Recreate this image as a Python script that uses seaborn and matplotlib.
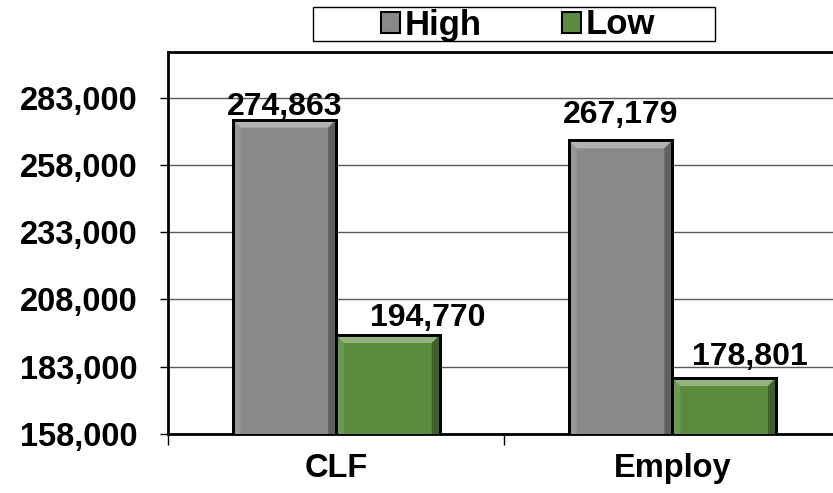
import matplotlib
matplotlib.use("Agg")
import matplotlib.pyplot as plt
from matplotlib.patches import Patch, Polygon, Rectangle
import numpy as np
import pandas as pd
import seaborn as sns

# data
categories = ["CLF", "Employ"]
high_vals = [274863, 267179]
low_vals = [194770, 178801]
series = ["High", "Low"]
yticks = [158000, 183000, 208000, 233000, 258000, 283000]

colors = {"High": "#898989", "Low": "#5b8b3c"}

df = pd.DataFrame({
    "cat": categories * 2,
    "series": ["High"] * len(categories) + ["Low"] * len(categories),
    "value": high_vals + low_vals,
})

sns.set_style("white")
plt.rcParams["font.family"] = ["Liberation Sans", "DejaVu Sans"]
plt.rcParams["font.weight"] = "bold"
plt.rcParams["text.color"] = "black"
plt.rcParams["xtick.color"] = "black"
plt.rcParams["ytick.color"] = "black"

W, H = 833, 493
fig = plt.figure(figsize=(W / 100, H / 100), dpi=100)
ax = fig.add_axes([168 / W, (H - 434) / H, (840.5 - 168) / W, (434 - 52) / H])

sns.barplot(data=df, x="cat", y="value", hue="series", hue_order=series,
            palette=colors, width=0.616, gap=0, edgecolor="black",
            linewidth=2, saturation=1, legend=False, ax=ax, zorder=3)

ax.set_xlim(-0.5, 1.5)
ax.set_ylim(158000, 300000)
ax.set_yticks(yticks)
ax.set_yticklabels([f"{v:,}" for v in yticks])
ax.set_xlabel("")
ax.set_ylabel("")
ax.yaxis.grid(True, color="#5a5a5a", lw=1, zorder=0)
ax.xaxis.grid(False)

ax.tick_params(axis="y", left=True, direction="out", length=6, width=1,
               color="black", labelcolor="black", pad=16, labelsize=23.5)
ax.tick_params(axis="x", which="major", bottom=True, length=0, pad=14,
               labelcolor="black", labelsize=23.5)
ax.set_xticks([-0.5, 0.5, 1.5], minor=True)
ax.tick_params(axis="x", which="minor", bottom=True, direction="out",
               length=8, width=1, color="black")
for lab in ax.get_xticklabels() + ax.get_yticklabels():
    lab.set_fontweight("bold")

for side in ["left", "bottom", "top", "right"]:
    ax.spines[side].set_color("black")
    ax.spines[side].set_linewidth(2)
    ax.spines[side].set_visible(True)

fig.canvas.draw()

# bevel look on each bar, sized in pixels and converted to data units
bev = 8
inv = ax.transData.inverted()
for p in ax.patches:
    x0, y0 = p.get_x(), p.get_y()
    x1, y1 = x0 + p.get_width(), y0 + p.get_height()
    (px0, py0) = ax.transData.transform((x0, y0))
    (px1, py1) = ax.transData.transform((x1, y1))
    def d(px, py):
        return inv.transform((px, py))
    o = [d(px0, py0), d(px1, py0), d(px1, py1), d(px0, py1)]
    i = [d(px0 + bev, py0 + bev), d(px1 - bev, py0 + bev),
         d(px1 - bev, py1 - bev), d(px0 + bev, py1 - bev)]
    faces = [
        ([o[3], o[2], i[2], i[3]], "white", 0.35),   # top
        ([o[0], o[3], i[3], i[0]], "white", 0.12),   # left
        ([o[1], o[2], i[2], i[1]], "black", 0.30),   # right
        ([o[0], o[1], i[1], i[0]], "black", 0.22),   # bottom
    ]
    for pts, c, a in faces:
        ax.add_patch(Polygon(pts, closed=True, facecolor=c, alpha=a,
                             edgecolor="none", zorder=3.5))
    ax.add_patch(Rectangle((x0, y0), x1 - x0, y1 - y0, fill=False,
                           edgecolor="black", lw=2, zorder=3.6))

# value labels, nudged as in the reference
offsets = {("High", 0): (0, 5), ("Low", 0): (40, 9),
           ("High", 1): (0, 17), ("Low", 1): (26, 13)}
for s_i, s in enumerate(series):
    vals = high_vals if s == "High" else low_vals
    for c_i, v in enumerate(vals):
        p = ax.patches[s_i * len(categories) + c_i]
        xc = p.get_x() + p.get_width() / 2
        dx, dy = offsets[(s, c_i)]
        ax.annotate(f"{v:,}", (xc, v), xytext=(dx, dy),
                    textcoords="offset pixels", ha="center", va="baseline",
                    fontsize=23, fontweight="bold", color="black", zorder=5,
                    annotation_clip=False)

# legend
handles = [Patch(facecolor=colors[s], edgecolor="black", lw=1.5, label=s)
           for s in series]
leg = fig.legend(handles=handles, loc="center", ncol=2, frameon=False,
                 bbox_to_anchor=(518 / W, 1 - 25 / H),
                 prop={"size": 25, "weight": "bold"},
                 handlelength=0.55, handleheight=0.55, handletextpad=0.15,
                 columnspacing=2.3, borderpad=0, labelcolor="black")
fig.patches.append(Rectangle((313 / W, 1 - 41 / H), 402 / W, 34 / H,
                             transform=fig.transFigure, fill=False,
                             edgecolor="black", lw=1))

fig.savefig("out.png", dpi=100)
